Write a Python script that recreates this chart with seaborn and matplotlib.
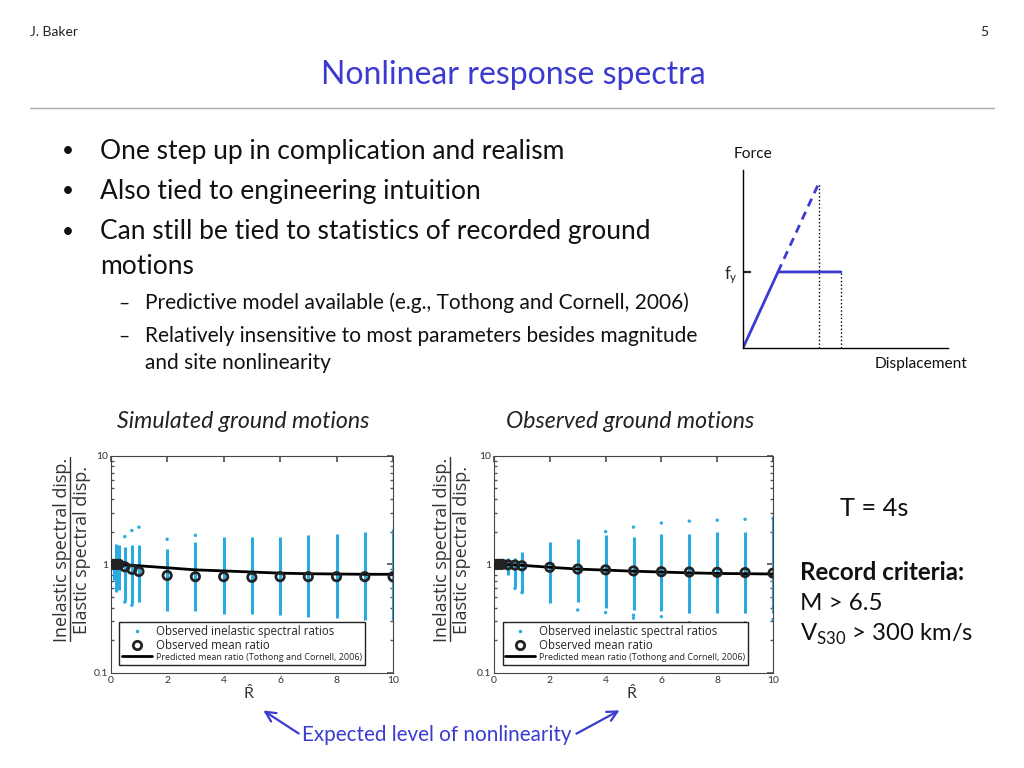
import numpy as np
import pandas as pd
import matplotlib
matplotlib.use('Agg')
import matplotlib.pyplot as plt
import seaborn as sns
from matplotlib.lines import Line2D

# ---- data ----
col_x = [0.1, 0.2, 0.3, 0.5, 0.75, 1, 2, 3, 4, 5, 6, 7, 8, 9, 10]

sim_lo = [0.72, 0.56, 0.58, 0.46, 0.43, 0.45, 0.37, 0.37, 0.35, 0.35, 0.34, 0.33, 0.32, 0.31, 0.31]
sim_hi = [1.12, 1.55, 1.50, 1.45, 1.50, 1.50, 1.38, 1.60, 1.80, 1.78, 1.78, 1.85, 1.90, 2.00, 2.10]
sim_out_x = [0.5, 0.75, 1, 2, 3, 0.75, 0.5]
sim_out_y = [1.80, 2.05, 2.20, 1.70, 1.85, 0.42, 0.45]
sim_mean = [1.0, 1.0, 1.0, 0.95, 0.90, 0.86, 0.79, 0.77, 0.77, 0.76, 0.77, 0.77, 0.77, 0.77, 0.77]

obs_lo = [0.96, 0.95, 0.95, 0.80, 0.62, 0.55, 0.44, 0.45, 0.40, 0.38, 0.37, 0.36, 0.36, 0.36, 0.36]
obs_hi = [1.04, 1.05, 1.04, 1.15, 1.15, 1.30, 1.60, 1.70, 1.85, 1.80, 1.90, 1.90, 2.00, 2.00, 2.60]
obs_out_x = [0.75, 1, 3, 4, 4, 5, 5, 5, 6, 6, 7, 7, 8, 8, 9, 9, 10, 10]
obs_out_y = [0.60, 0.55, 0.38, 0.36, 2.00, 0.32, 0.34, 2.20, 0.33, 2.40, 0.29, 2.50, 0.28, 2.55, 0.29, 2.60, 0.31, 2.65]
obs_mean = [1.0, 1.0, 1.0, 0.99, 0.985, 0.97, 0.94, 0.905, 0.89, 0.87, 0.855, 0.85, 0.845, 0.84, 0.83]

pred_x = [0, 0.5, 1, 2, 3, 4, 5, 6, 7, 8, 9, 10]
sim_pred = [1.0, 0.99, 0.97, 0.93, 0.89, 0.87, 0.85, 0.83, 0.82, 0.815, 0.81, 0.81]
obs_pred = [1.0, 0.995, 0.98, 0.94, 0.905, 0.885, 0.865, 0.85, 0.835, 0.825, 0.82, 0.815]

# force-displacement sketch
fd_disp = [0, 1, 2.8]
fd_force = [0, 1, 1]
el_disp = [1, 2.17]
el_force = [1, 2.17]

bullets = ['One step up in complication and realism',
           'Also tied to engineering intuition',
           'Can still be tied to statistics of recorded ground',
           'motions']
sub_bullets = ['Predictive model available (e.g., Tothong and Cornell, 2006)',
               'Relatively insensitive to most parameters besides magnitude',
               'and site nonlinearity']

BLUE = '#3b3bd0'
CYAN = '#29abe2'

sns.set_theme(style='white')
plt.rcParams['font.family'] = ['Lato', 'DejaVu Sans']
plt.rcParams['mathtext.fontset'] = 'dejavusans'

fig = plt.figure(figsize=(10.24, 7.68), dpi=100)


def pos(x0, y0, x1, y1):
    return [x0 / 1024, 1 - y1 / 768, (x1 - x0) / 1024, (y1 - y0) / 768]


def ratio_plot(ax, lo, hi, ox, oy, mean, pred):
    ax.vlines(col_x, lo, hi, color=CYAN, lw=2.2, zorder=1)
    sns.scatterplot(x=ox, y=oy, ax=ax, color=CYAN, s=6, edgecolor='none', zorder=2)
    sns.lineplot(x=pred_x, y=pred, ax=ax, color='black', lw=2, zorder=3)
    sns.scatterplot(x=col_x, y=mean, ax=ax, marker='o', s=36, linewidth=2,
                    edgecolor='#222222', zorder=4)
    ax.collections[-1].set_facecolor('none')
    ax.set_yscale('log')
    ax.set_xlim(0, 10)
    ax.set_ylim(0.1, 10)
    ax.set_xticks([0, 2, 4, 6, 8, 10])
    ax.set_yticks([0.1, 1, 10])
    ax.set_yticklabels(['0.1', '1', '10'])
    ax.tick_params(which='both', direction='in', top=True, right=True,
                   labelsize=7.5, labelcolor='#333333', color='#555555', pad=2)
    ax.tick_params(which='major', length=4)
    ax.tick_params(which='minor', length=2, left=True, right=True)
    for s in ax.spines.values():
        s.set_color('#444444')
        s.set_linewidth(0.8)
    ax.set_xlabel('')
    ax.set_ylabel('')
    handles = [Line2D([], [], ls='none', marker='.', ms=3, color=CYAN),
               Line2D([], [], ls='none', marker='o', ms=6, mew=2, mfc='none', mec='#222222'),
               Line2D([], [], color='black', lw=2)]
    labels = ['Observed inelastic spectral ratios', 'Observed mean ratio',
              'Predicted mean ratio (Tothong and Cornell, 2006)']
    leg = ax.legend(handles, labels, loc='lower left', bbox_to_anchor=(0.01, 0.01),
                    frameon=True, fancybox=False, framealpha=1,
                    edgecolor='#222222', handlelength=2.6, handletextpad=0.3,
                    borderpad=0.25, labelspacing=0.05, prop={'family': 'Open Sans', 'size': 8.3})
    leg.get_frame().set_linewidth(1)
    leg.get_texts()[2].set_fontsize(6.5)


ax1 = fig.add_axes(pos(110.7, 455.7, 393, 673))
ratio_plot(ax1, sim_lo, sim_hi, sim_out_x, sim_out_y, sim_mean, sim_pred)
ax2 = fig.add_axes(pos(494, 455.7, 773, 673))
ratio_plot(ax2, obs_lo, obs_hi, obs_out_x, obs_out_y, obs_mean, obs_pred)

# force-displacement diagram
ax3 = fig.add_axes(pos(743, 170, 948, 348))
sns.lineplot(x=fd_disp, y=fd_force, ax=ax3, color=BLUE, lw=2, sort=False)
sns.lineplot(x=el_disp, y=el_force, ax=ax3, color=BLUE, lw=2, ls=(0, (3, 2.2)), sort=False)
ax3.vlines([el_disp[1], fd_disp[2]], 0, [el_force[1], fd_force[2]],
           color='black', lw=1, ls=':')
ax3.set_xlim(0, 5.86)
ax3.set_ylim(0, 2.34)
ax3.set_xticks([])
ax3.set_yticks([1])
ax3.set_yticklabels(['$\\mathregular{f_y}$'])
ax3.tick_params(axis='y', direction='in', length=6, width=1.6, labelsize=12, pad=4, left=True)
for side in ['top', 'right']:
    ax3.spines[side].set_visible(False)
for side in ['left', 'bottom']:
    ax3.spines[side].set_color('black')
    ax3.spines[side].set_linewidth(1)
ax3.set_facecolor('none')

# overlay in pixel coordinates for the slide text
ov = fig.add_axes([0, 0, 1, 1])
ov.set_xlim(0, 1024)
ov.set_ylim(768, 0)
ov.axis('off')

ov.text(30, 32, 'J. Baker', fontsize=10, va='center', color='#222222')
ov.text(988, 32, '5', fontsize=10, va='center', ha='right', color='#222222')
ov.text(513, 75, 'Nonlinear response spectra', fontsize=23, ha='center', va='center', color=BLUE)
ov.plot([30, 994], [108, 108], color='#aaaaaa', lw=1)

for y, t, dot in zip([151, 191, 232, 267], bullets, [True, True, True, False]):
    if dot:
        ov.text(62, y, '•', fontsize=15, va='center', ha='left', color='#111111')
    ov.text(100, y, t, fontsize=19, va='center', color='#111111')
for y, t, dash in zip([303, 336, 363], sub_bullets, [True, True, False]):
    if dash:
        ov.text(118, y, '–', fontsize=14, va='center', color='#111111')
    ov.text(145, y, t, fontsize=15, va='center', color='#111111')

ov.text(734, 154, 'Force', fontsize=11.2, va='center', color='#111111')
ov.text(967, 364, 'Displacement', fontsize=11.2, va='center', ha='right', color='#111111')

ov.text(117, 421, 'Simulated ground motions', fontsize=16.7, style='italic', va='center', color='#222222')
ov.text(506, 421, 'Observed ground motions', fontsize=16.7, style='italic', va='center', color='#222222')

for xl, xr in [(62, 82), (442, 462)]:
    ov.text(xl, 550, 'Inelastic spectral disp.', rotation=90, fontsize=13, ha='center', va='center',
            family='Open Sans', color='#333333')
    ov.plot([xl + 8, xl + 8], [457, 641], color='#333333', lw=1)
    ov.text(xr, 550, 'Elastic spectral disp.', rotation=90, fontsize=13, ha='center', va='center',
            family='Open Sans', color='#333333')

ov.text(249, 693, '$\\mathregular{\\hat{R}}$', fontsize=11.5, ha='center', va='center', color='#333333')
ov.text(632, 693, '$\\mathregular{\\hat{R}}$', fontsize=11.5, ha='center', va='center', color='#333333')

ov.text(840, 509, 'T = 4s', fontsize=18.3, va='center', color='#111111')
ov.text(800, 573, 'Record criteria:', fontsize=17.4, weight='bold', va='center', color='#111111')
ov.text(800, 603, 'M > 6.5', fontsize=17.4, va='center', color='#111111')
ov.text(800, 634, 'V$_\\mathregular{S30}$ > 300 km/s', fontsize=17.2, va='center', color='#111111')

ov.text(437, 735, 'Expected level of nonlinearity', fontsize=14.9, ha='center', va='center', color=BLUE)
ov.annotate('', xy=(261, 709), xytext=(301, 735),
            arrowprops=dict(arrowstyle='->', color=BLUE, lw=1.6, mutation_scale=18))
ov.annotate('', xy=(622, 709), xytext=(574, 735),
            arrowprops=dict(arrowstyle='->', color=BLUE, lw=1.6, mutation_scale=18))

plt.savefig('out.png', dpi=100)
